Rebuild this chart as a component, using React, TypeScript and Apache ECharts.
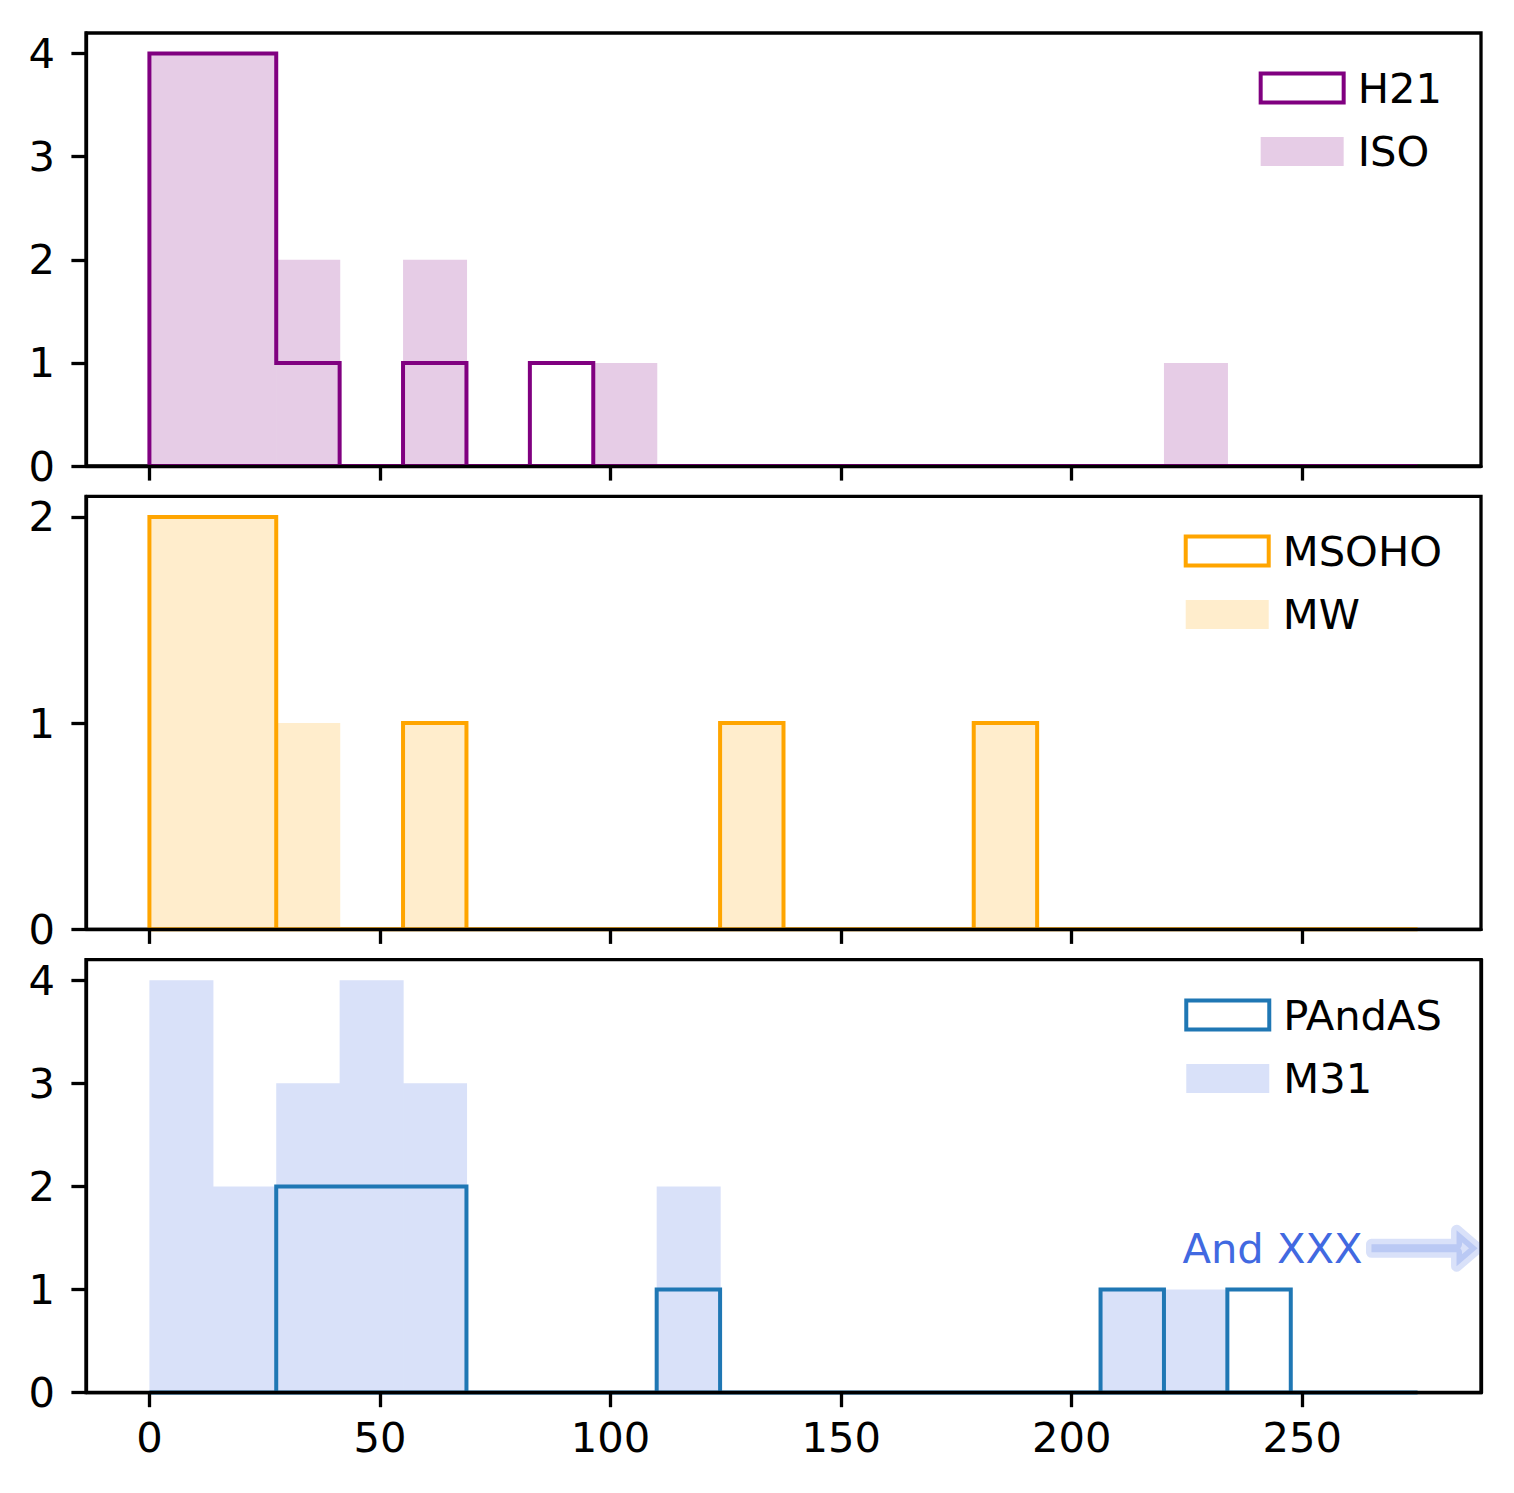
import React, { useEffect, useRef } from 'react';
import * as echarts from 'echarts';

// ---- data ----
const BIN_EDGES = [0, 13.75, 27.5, 41.25, 55, 68.75, 82.5, 96.25, 110, 123.75, 137.5, 151.25, 165, 178.75, 192.5, 206.25, 220, 233.75, 247.5, 261.25, 275];

const H21 = [4, 4, 1, 0, 1, 0, 1, 0, 0, 0, 0, 0, 0, 0, 0, 0, 0, 0, 0, 0];
const ISO = [4, 4, 2, 0, 2, 0, 0, 1, 0, 0, 0, 0, 0, 0, 0, 0, 1, 0, 0, 0];
const MSOHO = [2, 2, 0, 0, 1, 0, 0, 0, 0, 1, 0, 0, 0, 1, 0, 0, 0, 0, 0, 0];
const MW = [2, 2, 1, 0, 1, 0, 0, 0, 0, 1, 0, 0, 0, 1, 0, 0, 0, 0, 0, 0];
const PANDAS = [0, 0, 2, 2, 2, 0, 0, 0, 1, 0, 0, 0, 0, 0, 0, 1, 0, 1, 0, 0];
const M31 = [4, 2, 3, 4, 3, 0, 0, 0, 2, 0, 0, 0, 0, 0, 0, 1, 1, 0, 0, 0];

const X_TICKS = [0, 50, 100, 150, 200, 250];
const Y_TICKS_1 = [0, 1, 2, 3, 4];
const Y_TICKS_2 = [0, 1, 2];
const Y_TICKS_3 = [0, 1, 2, 3, 4];

const X_MIN = -13.75;
const X_MAX = 288.75;
const Y_MAX = [4.2, 2.1, 4.2];

const ANNOT_TEXT = 'And XXX';
const ANNOT_TEXT_X = 224;
const ANNOT_Y = 1.4;
const ARROW_FROM_X = 265;
const ARROW_TO_X = 288;

// ---- styles ----
const FONT = 'DejaVu Sans';
const FS = 41.67;
const SPINE = 3.3;

const PANELS = [
  { outline: 'H21', fill: 'ISO', outVals: H21, fillVals: ISO, stroke: '#800080', fillColor: '#e6cce6', yTicks: Y_TICKS_1, legendTop: 67 },
  { outline: 'MSOHO', fill: 'MW', outVals: MSOHO, fillVals: MW, stroke: '#ffa500', fillColor: '#ffedcc', yTicks: Y_TICKS_2, legendTop: 530 },
  { outline: 'PAndAS', fill: 'M31', outVals: PANDAS, fillVals: M31, stroke: '#1f77b4', fillColor: '#d9e1f9', yTicks: Y_TICKS_3, legendTop: 994 },
];

const GRID_TOPS = [33, 496.3, 959.6];

function outlinePoints(vals: number[]): number[][] {
  const pts: number[][] = [[BIN_EDGES[0], 0]];
  vals.forEach((v, i) => {
    pts.push([BIN_EDGES[i], v]);
    pts.push([BIN_EDGES[i + 1], v]);
  });
  pts.push([BIN_EDGES[BIN_EDGES.length - 1], 0]);
  pts.push([BIN_EDGES[0], 0]);
  return pts;
}

function buildOption() {
  const grid: any[] = [];
  const xAxis: any[] = [];
  const yAxis: any[] = [];
  const series: any[] = [];
  const legend: any[] = [];

  PANELS.forEach((p, gi) => {
    grid.push({
      left: 86,
      top: GRID_TOPS[gi],
      width: 1395,
      height: 433,
      show: true,
      borderColor: '#000',
      borderWidth: SPINE,
      backgroundColor: 'transparent',
    });
    xAxis.push({
      gridIndex: gi,
      type: 'value',
      min: X_MIN,
      max: X_MAX,
      z: 5,
      axisLine: { show: true, onZero: false, lineStyle: { color: '#000', width: SPINE } },
      axisTick: { show: true, customValues: X_TICKS, length: 14.6, lineStyle: { color: '#000', width: SPINE } },
      axisLabel: {
        show: gi === 2,
        customValues: X_TICKS,
        margin: 24,
        fontSize: FS,
        fontFamily: FONT,
        color: '#000',
      },
      splitLine: { show: false },
    });
    yAxis.push({
      gridIndex: gi,
      type: 'value',
      min: 0,
      max: Y_MAX[gi],
      z: 5,
      axisLine: { show: true, onZero: false, lineStyle: { color: '#000', width: SPINE } },
      axisTick: { show: true, customValues: p.yTicks, length: 14.6, lineStyle: { color: '#000', width: SPINE } },
      axisLabel: {
        show: true,
        customValues: p.yTicks,
        margin: 31,
        fontSize: FS,
        fontFamily: FONT,
        color: '#000',
      },
      splitLine: { show: false },
    });

    // filled histogram
    const fillColor = p.fillColor;
    series.push({
      type: 'custom',
      name: p.fill,
      xAxisIndex: gi,
      yAxisIndex: gi,
      z: 1,
      itemStyle: { color: fillColor },
      encode: { x: [0, 1], y: 2 },
      data: p.fillVals.map((v, i) => [BIN_EDGES[i], BIN_EDGES[i + 1], v]),
      renderItem: (params: any, api: any) => {
        const v = api.value(2);
        if (!v) return null;
        const a = api.coord([api.value(0), v]);
        const b = api.coord([api.value(1), 0]);
        return {
          type: 'rect',
          shape: { x: a[0], y: a[1], width: b[0] - a[0] + 0.6, height: b[1] - a[1] },
          style: { fill: fillColor },
          silent: true,
        };
      },
    });

    // step outline
    const pts = outlinePoints(p.outVals);
    const stroke = p.stroke;
    series.push({
      type: 'custom',
      name: p.outline,
      xAxisIndex: gi,
      yAxisIndex: gi,
      z: 2,
      clip: false,
      itemStyle: { color: stroke },
      encode: { x: 0, y: 1 },
      data: pts,
      renderItem: (params: any, api: any) => {
        if (params.dataIndex !== 0) return null;
        const points = pts.map((q) => api.coord(q));
        return {
          type: 'polyline',
          shape: { points },
          style: { stroke, fill: null, lineWidth: 4, lineJoin: 'miter', lineCap: 'butt' },
          silent: true,
        };
      },
    });

    legend.push({
      orient: 'vertical',
      right: 72,
      top: p.legendTop,
      padding: 0,
      itemWidth: 83,
      itemHeight: 29,
      itemGap: 21.5,
      selectedMode: false,
      textStyle: { fontSize: FS, fontFamily: FONT, color: '#000', padding: [0, 0, 0, 9] },
      data: [
        { name: p.outline, icon: 'rect', itemStyle: { color: '#ffffff', borderColor: stroke, borderWidth: 4 } },
        { name: p.fill, icon: 'rect', itemStyle: { color: fillColor, borderWidth: 0 } },
      ],
    });
  });

  // right spine of bottom panel drawn above annotation arrow
  yAxis.push({
    gridIndex: 2,
    type: 'value',
    position: 'right',
    min: 0,
    max: Y_MAX[2],
    z: 5,
    axisLine: { show: true, onZero: false, lineStyle: { color: '#000', width: SPINE } },
    axisTick: { show: false },
    axisLabel: { show: false },
    splitLine: { show: false },
  });

  // annotation: "And XXX" with arrow
  series.push({
    type: 'custom',
    name: 'annotation',
    xAxisIndex: 2,
    yAxisIndex: 2,
    z: 3,
    clip: false,
    encode: { x: 0, y: 1 },
    data: [[ANNOT_TEXT_X, ANNOT_Y, ARROW_FROM_X, ARROW_TO_X]],
    renderItem: (params: any, api: any) => {
      const t = api.coord([api.value(0), api.value(1)]);
      const a = api.coord([api.value(2), api.value(1)]);
      const b = api.coord([api.value(3), api.value(1)]);
      const y = a[1];
      const sh = 4;
      const hh = 18;
      const hl = 21;
      const tx = a[0];
      const px = b[0];
      return {
        type: 'group',
        silent: true,
        children: [
          {
            type: 'polygon',
            shape: {
              points: [
                [tx, y - sh],
                [px - hl, y - sh],
                [px - hl, y - hh],
                [px, y],
                [px - hl, y + hh],
                [px - hl, y + sh],
                [tx, y + sh],
              ],
            },
            style: {
              fill: 'rgba(65,105,225,0.2)',
              stroke: 'rgba(65,105,225,0.2)',
              lineWidth: 11,
              lineJoin: 'round',
            },
          },
          {
            type: 'text',
            x: t[0],
            y: t[1],
            style: {
              text: ANNOT_TEXT,
              fill: '#4169e1',
              fontSize: FS,
              fontFamily: FONT,
              align: 'left',
              verticalAlign: 'middle',
            },
          },
        ],
      };
    },
  });

  return {
    animation: false,
    backgroundColor: '#ffffff',
    grid,
    xAxis,
    yAxis,
    legend,
    series,
  };
}

export default function App() {
  const ref = useRef<HTMLDivElement>(null);
  useEffect(() => {
    document.body.style.margin = '0';
    if (!ref.current) return;
    const chart = echarts.init(ref.current, undefined, { renderer: 'svg' });
    chart.setOption(buildOption() as any);
    return () => {
      chart.dispose();
    };
  }, []);
  return <div ref={ref} style={{ width: 1514, height: 1493 }} />;
}
